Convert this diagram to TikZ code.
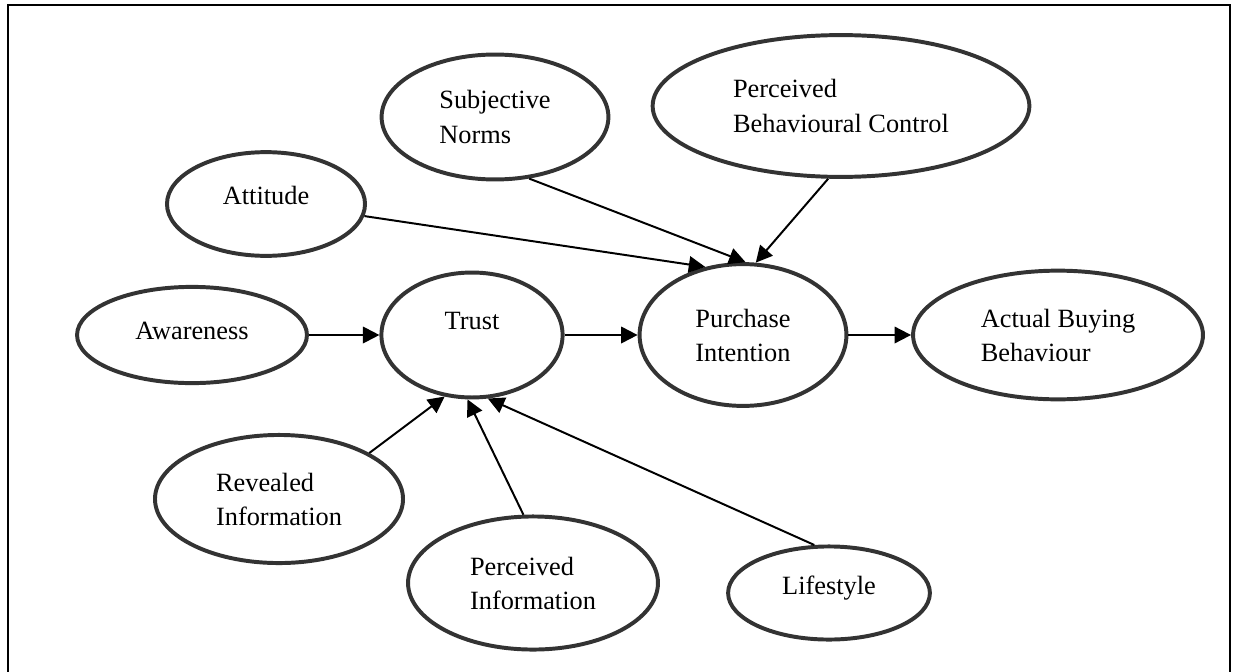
\documentclass[tikz,border=0pt]{standalone}
\usepackage{fontspec}
\setmainfont{Liberation Serif}
\usepackage{tikz}
\usetikzlibrary{shapes.geometric, arrows.meta}

\begin{document}
\begin{tikzpicture}[x=0.016cm, y=-0.016cm,
  oval/.style={draw=black!80, line width=1.8pt, ellipse, inner sep=0pt, align=left, font=\fontsize{12}{15.5}\selectfont},
  link/.style={line width=0.9pt, -{Triangle[length=7.5pt, width=7.5pt]}}]
\useasboundingbox (0,0) rectangle (1235,671);
\draw[line width=1.2pt] (8,690) -- (8,5) -- (1230,5) -- (1230,690);
\node[oval, minimum width=3.63cm, minimum height=2cm](sn) at (495,117) {Subjective\\Norms};
\node[oval, minimum width=6.03cm, minimum height=2.27cm](pbc) at (841,106) {Perceived\\Behavioural Control};
\node[oval, minimum width=3.17cm, minimum height=1.66cm, text depth=8pt](att) at (266,204) {Attitude};
\node[oval, minimum width=3.68cm, minimum height=1.54cm, text depth=3.5pt](aw) at (192,335) {Awareness};
\node[oval, minimum width=2.9cm, minimum height=2cm, text depth=13pt](tr) at (472,335) {Trust};
\node[oval, minimum width=3.31cm, minimum height=2.27cm](pi) at (743,335) {Purchase\\Intention};
\node[oval, minimum width=4.64cm, minimum height=2.06cm](abb) at (1058,335) {Actual Buying\\Behaviour};
\node[oval, minimum width=3.97cm, minimum height=2.05cm](ri) at (279,499) {Revealed\\Information};
\node[oval, minimum width=4cm, minimum height=2.13cm](pinf) at (533,583) {Perceived\\Information};
\node[oval, minimum width=3.23cm, minimum height=1.49cm, text depth=7pt](ls) at (829,593) {Lifestyle};
\draw[link] (aw.east) -- (tr.west);
\draw[link] (tr.east) -- (pi.west);
\draw[link] (pi.east) -- (abb.west);
\draw[link] (att.-7.6) -- (pi.119);
\draw[link] (sn.-61.6) -- (pi.88.4);
\draw[link] (pbc.-100.7) -- (pi.80.4);
\draw[link] (ri.27) -- (tr.-114.7);
\draw[link] (pinf.98.5) -- (tr.-94.5);
\draw[link] (ls.107) -- (tr.-76.8);
\end{tikzpicture}
\end{document}
